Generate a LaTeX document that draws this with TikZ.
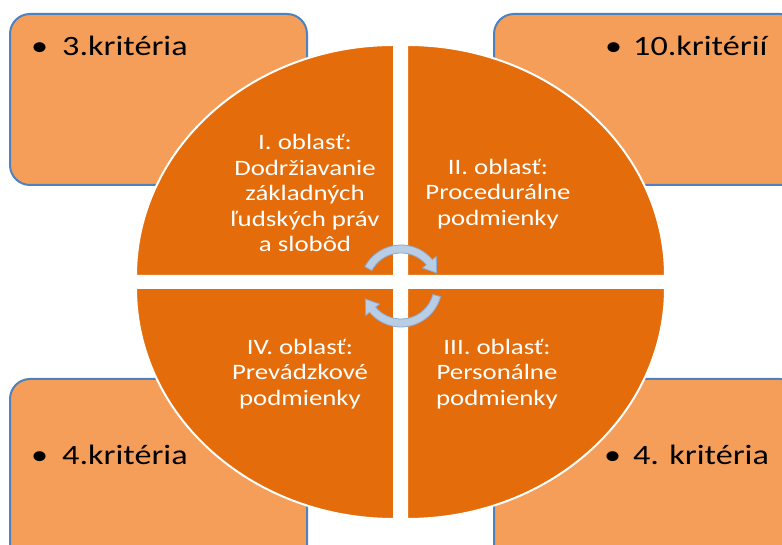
\documentclass[tikz,border=0pt]{standalone}
\usepackage{fontspec}
\setmainfont[FakeStretch=1.22]{Carlito}
\usepackage{tikz}

\definecolor{boxfill}{HTML}{F59E5A}
\definecolor{boxline}{HTML}{4F81BD}
\definecolor{quadfill}{HTML}{E46C0A}
\definecolor{turnfill}{HTML}{B9CDE5}
\definecolor{turnline}{HTML}{8EA9CF}

\begin{document}
\begin{tikzpicture}[x=1pt, y=1pt,
    crit/.style={draw=boxline, line width=2pt, fill=boxfill, rounded corners=20pt},
    quarter/.style={fill=quadfill, draw=white, line width=2pt},
    area/.style={text=white, align=center, inner sep=0pt, font=\fontsize{22}{25.5}\selectfont},
    item/.style={anchor=base west, inner sep=0pt, font=\fontsize{28}{30}\selectfont},
    turn/.style={fill=turnfill, draw=turnline, line width=0.8pt}]
    \useasboundingbox (0,0) rectangle (782,545);
    \clip (0,0) rectangle (782,545);
    % corner boxes
    \draw[crit] (10,360) rectangle (307,531);
    \draw[crit] (494,360) rectangle (800,531);
    \draw[crit] (10,-20) rectangle (307,166);
    \draw[crit] (494,-20) rectangle (800,166);
    \node[item] (k1) at (31,489) {\makebox[31pt][l]{•}3.kritéria};
    \node[item] (k2) at (605,489) {\makebox[28pt][l]{•}10.kritérií};
    \node[item] (k4) at (31,80) {\makebox[31pt][l]{•}4.kritéria};
    \node[item] (k3) at (604,80) {\makebox[29pt][l]{•}4. kritéria};
    % quarters of the ellipse
    \path[quarter] (394,269) -- ++(-258,0) arc[start angle=180, end angle=90, x radius=258, y radius=231] -- cycle;
    \path[quarter] (407,269) -- ++(0,231) arc[start angle=90, end angle=0, x radius=258, y radius=231] -- cycle;
    \path[quarter] (407,257) -- ++(258,0) arc[start angle=0, end angle=-90, x radius=258, y radius=231] -- cycle;
    \path[quarter] (394,257) -- ++(0,-231) arc[start angle=-90, end angle=-180, x radius=258, y radius=231] -- cycle;
    \node[area] (o1) at (305,352) {I. oblasť:\\Dodržiavanie\\základných\\ľudských práv\\a slobôd};
    \node[area] (o2) at (498,351) {II. oblasť:\\Procedurálne\\podmienky};
    \node[area] (o3) at (497,171) {III. oblasť:\\Personálne\\podmienky};
    \node[area] (o4) at (300,171) {IV. oblasť:\\Prevádzkové\\podmienky};
    % circular arrows
    \coordinate (c) at (401,259);
    \path[turn, shift={(c)}] (152:41) arc[start angle=152, end angle=40, radius=41]
        -- (40:46) -- (20:38) -- (40:28) -- (40:33)
        arc[start angle=40, end angle=152, radius=33] -- cycle;
    \path[turn, shift={(c)}] (-15:41) arc[start angle=-15, end angle=-140, radius=41]
        -- (-140:46) -- (-160:38) -- (-140:28) -- (-140:33)
        arc[start angle=-140, end angle=-15, radius=33] -- cycle;
\end{tikzpicture}
\end{document}
